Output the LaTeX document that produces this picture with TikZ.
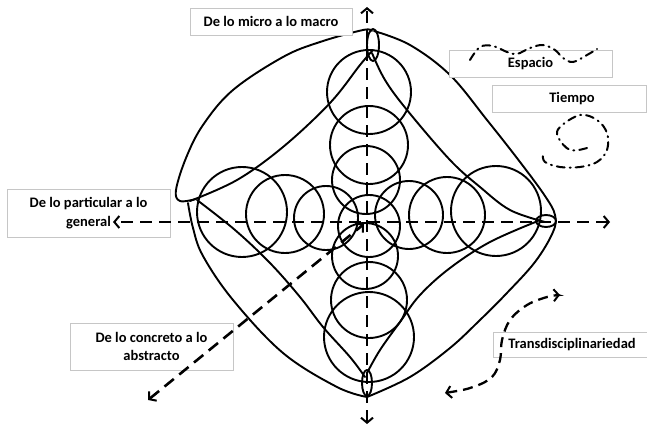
\documentclass[tikz,border=0pt]{standalone}
\usepackage{fontspec}
\setmainfont{Carlito}
\usetikzlibrary{arrows.meta}
\begin{document}
\begin{tikzpicture}[x=1pt,y=-1pt,
  curve/.style={line width=1.9pt, line join=round, line cap=round},
  ring/.style={line width=1.9pt},
  tip/.tip={Straight Barb[length=5pt,width=12pt,line width=2pt]},
  axisline/.style={line width=2.6pt, dash pattern=on 12pt off 7pt, tip-tip},
  bendarrow/.style={line width=2.3pt, dash pattern=on 10pt off 6pt, tip-tip},
  dashdot/.style={line width=2pt, line cap=round, dash pattern=on 8pt off 5pt on 1pt off 5pt},
  labelbox/.style={draw=gray!45, line width=0.8pt, fill=white, inner sep=0pt,
    font=\fontsize{14.5}{18.5}\selectfont\bfseries, align=center}
]
\useasboundingbox (0,0) rectangle (647,430);

% outer rounded diamond and inner star
\draw[curve] plot[smooth, tension=0.6] coordinates {(372,31) (363,30) (320,42) (283,57) (233,90) (203,125) (186,158) (176,190) (180,201) (196,199)};
\draw[curve] plot[smooth, tension=0.6] coordinates {(190,201) (237,180) (283,147) (330,103) (360,65) (373,50)};
\draw[curve] plot[smooth, tension=0.6] coordinates {(374,31) (410,45) (450,75) (487,120) (520,162) (545,196) (555,215) (553,232) (535,262) (505,295) (480,320) (450,348) (410,377) (367,397)};
\draw[curve] plot[smooth, tension=0.6] coordinates {(372,53) (385,80) (407,110) (450,160) (480,187) (510,210) (545,222)};
\draw[curve] plot[smooth, tension=0.6] coordinates {(538,221) (490,242) (450,268) (420,295) (400,322) (380,350) (367,373)};
\draw[curve] plot[smooth, tension=0.6] coordinates {(188,203) (193,228) (203,256) (233,300) (283,353) (337,387) (367,397)};
\draw[curve] plot[smooth, tension=0.6] coordinates {(197,200) (235,230) (270,263) (300,297) (323,327) (350,357) (365,377)};
% small loops
\draw[curve] (373,45) ellipse (6pt and 16pt);
\draw[curve] (367,383) ellipse (5pt and 13pt);
\draw[curve] (546,221) ellipse (10pt and 6pt);

% circles, vertical column
\draw[ring] (369,92) circle (42pt);
\draw[ring] (369,145) circle (39pt);
\draw[ring] (366,180) circle (34pt);
\draw[ring] (369,226) circle (31pt);
\draw[ring] (365,256) circle (33pt);
\draw[ring] (369,300) circle (38pt);
\draw[ring] (369,337) circle (45pt);
% circles, horizontal row
\draw[ring] (242,212) circle (45pt);
\draw[ring] (285,214) circle (39pt);
\draw[ring] (326,218) circle (32pt);
\draw[ring] (409,215) circle (34pt);
\draw[ring] (447,215) circle (38pt);
\draw[ring] (496,211) circle (45pt);

% label boxes
\node[labelbox, minimum width=162pt, minimum height=27pt] (micro) at (271,21.5) {De lo micro a lo macro};
\node[labelbox, minimum width=163pt, minimum height=27pt] (espacio) at (530.5,63.5) {Espacio};
\node[labelbox, minimum width=154pt, minimum height=27pt] (tiempo) at (569,98.5) {\hspace*{6pt}Tiempo};
\node[labelbox, minimum width=163pt, minimum height=48pt] (particular) at (88.5,213) {De lo particular a lo\\general};
\node[labelbox, minimum width=163pt, minimum height=47pt] (concreto) at (151.5,346.5) {De lo concreto a lo\\abstracto};
\node[labelbox, minimum width=154pt, minimum height=25pt] (trans) at (570,344.5) {\hspace*{4pt}Transdisciplinariedad};

% axes
\coordinate (top) at (367,7);
\coordinate (bottom) at (367,424);
\coordinate (left) at (113,222);
\coordinate (right) at (610,222);
\coordinate (diagA) at (148,400);
\coordinate (diagB) at (364,224);
\draw[axisline] (bottom) -- (top);
\draw[axisline] (right) -- (left);
\draw[axisline] (diagA) -- (diagB);

% transdisciplinarity arrow
\draw[bendarrow] plot[smooth, tension=0.6] coordinates {(445,393) (473,387) (492,377) (500,360) (502,340) (510,320) (527,305) (547,297) (560,295)};

% space and time curves
\draw[dashdot] plot[smooth, tension=0.6] coordinates {(470,60) (480,47) (493,46) (507,52) (517,54) (530,48) (543,45) (555,50) (563,58) (573,62) (587,55) (597,49)};
\draw[dashdot] plot[smooth, tension=0.6] coordinates {(587,148) (570,150) (558,137) (560,127) (580,115) (597,120) (607,133) (607,150) (597,162) (580,167) (560,167) (545,162) (543,155)};
\end{tikzpicture}
\end{document}
